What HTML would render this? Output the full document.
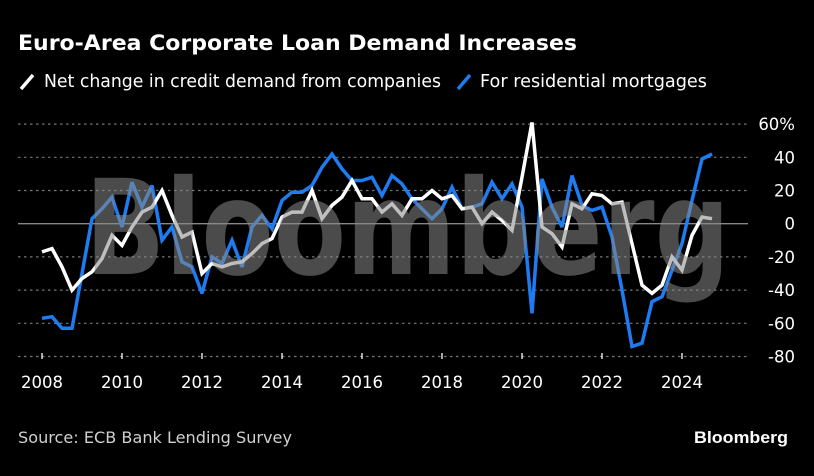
<!DOCTYPE html>
<html><head><meta charset="utf-8"><style>
html,body{margin:0;padding:0;background:#000;}
svg{display:block;font-family:"DejaVu Sans","Liberation Sans",sans-serif;}
</style></head><body>
<svg id="chart" width="814" height="476" viewBox="0 0 814 476" xmlns="http://www.w3.org/2000/svg">
<rect width="814" height="476" fill="#000"/>
<text x="18" y="50" fill="#fff" font-weight="bold" font-size="21" textLength="559" lengthAdjust="spacingAndGlyphs">Euro-Area Corporate Loan Demand Increases</text>
<g>
<g>
<line x1="21" y1="89" x2="33" y2="75" stroke="#fff" stroke-width="3.5"/>
<text x="44" y="87" fill="#fff" font-size="17.5" textLength="397" lengthAdjust="spacingAndGlyphs">Net change in credit demand from companies</text>
</g>
<g>
<line x1="458" y1="89" x2="470" y2="75" stroke="#1f7cf0" stroke-width="3.5"/>
<text x="480" y="87" fill="#fff" font-size="17.5" textLength="227" lengthAdjust="spacingAndGlyphs">For residential mortgages</text>
</g>
</g>
<g id="grid"></g>
<g id="yticks"></g>
<g id="xticks"></g>
<g id="series"></g>
<text x="85" y="274" fill="#888" fill-opacity="0.55" font-weight="bold" font-size="132" textLength="645" lengthAdjust="spacingAndGlyphs" font-family="DejaVu Sans, sans-serif">Bloomberg</text>
<text x="18" y="443" fill="#d0d0d0" font-size="16" textLength="274" lengthAdjust="spacingAndGlyphs">Source: ECB Bank Lending Survey</text>
<text x="788" y="443" fill="#fff" font-weight="bold" font-size="17" text-anchor="end" textLength="94" lengthAdjust="spacingAndGlyphs" font-family="Liberation Sans, sans-serif">Bloomberg</text>
</svg>
<script>
const startYear = 2008;
const companies = [-17,-15,-26,-40,-33,-29,-21,-7,-13,-2,7,10,20,5,-8,-5,-30,-24,-26,-24,-23,-18,-12,-9,4,7,7,20,3,11,16,26,15,15,7,12,5,15,15,20,15,17,9,10,0,7,2,-4,28,61,-2,-6,-14,12,9,18,17,12,13,-12,-37,-42,-37,-20,-28,-7,4,3];
const mortgages = [-57,-56,-63,-63,-30,3,9,16,-2,25,10,23,-10,-2,-23,-26,-42,-20,-24,-10,-26,-2,5,-3,14,19,19,23,34,42,33,26,26,28,17,29,24,15,9,3,9,22,9,10,12,25,15,24,10,-54,27,10,-2,29,11,8,10,-8,-40,-74,-72,-47,-44,-28,-12,14,39,42];
const yTicks = [60,40,20,0,-20,-40,-60,-80];
const yTickLabels = ["60%","40","20","0","-20","-40","-60","-80"];
const xTicks = [2008,2010,2012,2014,2016,2018,2020,2022,2024];

const NS = "http://www.w3.org/2000/svg";
const x = t => 42 + (t - startYear) * 40;
const y = v => 223.7 - v * 1.66;
function mk(tag, attrs, parent){const e=document.createElementNS(NS,tag);for(const k in attrs)e.setAttribute(k,attrs[k]);parent.appendChild(e);return e;}
const grid=document.getElementById('grid'), yt=document.getElementById('yticks'), xt=document.getElementById('xticks'), ser=document.getElementById('series');
yTicks.forEach((v,i)=>{
  const ln = mk('line',{x1:18,x2:748,y1:y(v),y2:y(v),stroke:v===0?'#888':'#777','stroke-width':v===0?1.3:1.2,'stroke-dasharray':v===0?'':'2.5,3.5'},grid);
  
  
  const t = mk('text',{x:795,y:y(v)+6,fill:'#fff','font-size':16.5,'text-anchor':'end'},yt);
  t.textContent = yTickLabels[i];
  
  
});
xTicks.forEach(yr=>{
  const tk = mk('line',{x1:x(yr),x2:x(yr),y1:353,y2:359,stroke:'#fff','stroke-width':1.3},xt);
  
  
  const t = mk('text',{x:x(yr),y:388,fill:'#fff','font-size':16.5,'text-anchor':'middle'},xt);
  t.textContent = yr;
  
  
});
function line(data,color,name){
  const pts = data.map((v,i)=>x(startYear+i/4).toFixed(1)+','+y(v).toFixed(1)).join(' ');
  const p = mk('polyline',{points:pts,fill:'none',stroke:color,'stroke-width':3.5,'stroke-linejoin':'miter','stroke-miterlimit':3},ser);
  
  
}
line(mortgages,'#1f7cf0','mortgages-line');
line(companies,'#ffffff','companies-line');
</script>
</body></html>
